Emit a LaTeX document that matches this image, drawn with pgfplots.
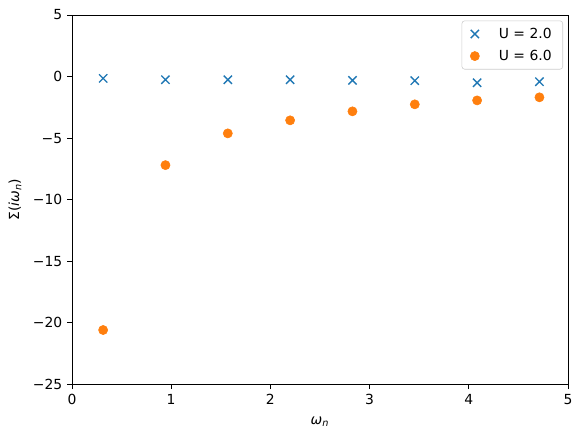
\documentclass[border=0pt]{standalone}
\usepackage{fontspec}
\setmainfont{DejaVu Sans}
\usepackage{pgfplots}
\pgfplotsset{compat=1.18}
\definecolor{cblue}{HTML}{1F77B4}
\definecolor{corange}{HTML}{FF7F0E}
\begin{document}
\begin{tikzpicture}
\begin{axis}[name=ax,
    scale only axis,
    width=357pt, height=265.7pt,
    xmin=0, xmax=5, ymin=-25, ymax=5,
    xtick={0,1,2,3,4,5},
    ytick={-25,-20,-15,-10,-5,0,5},
    yticklabels={−25,−20,−15,−10,−5,0,5},
    tick align=outside,
    major tick length=3.5pt,
    tick style={black, line width=0.6pt},
    xtick pos=bottom, ytick pos=left,
    axis line style={line width=0.6pt},
    /pgf/number format/assume math mode=true,
    tick label style={font=\fontsize{10}{12}\selectfont},
    xlabel={\textit{ω}\textsubscript{\textit{n}}},
    ylabel={Σ(\textit{iω}\textsubscript{\textit{n}})},
    label style={font=\fontsize{10}{12}\selectfont},
    xlabel style={yshift=-2pt},
    ylabel style={yshift=1.5pt},
    legend style={font=\fontsize{10}{12}\selectfont, draw=black!20, rounded corners=2pt,
        at={(0.99,0.985)}, anchor=north east, inner xsep=6pt, inner ysep=3pt, row sep=3pt},
    legend cell align=left,
]
\addplot[only marks, mark=x, mark size=4.2pt, cblue, line width=1pt] coordinates {
(0.3142,-0.15)
(0.9425,-0.26)
(1.5708,-0.26)
(2.1991,-0.26)
(2.8274,-0.31)
(3.4558,-0.34)
(4.0841,-0.50)
(4.7124,-0.42)
};
\addlegendentry{\hspace{12pt}U = 2.0}
\addplot[only marks, mark=*, mark size=3.3pt, corange, draw=corange] coordinates {
(0.3142,-20.6)
(0.9425,-7.20)
(1.5708,-4.62)
(2.1991,-3.56)
(2.8274,-2.83)
(3.4558,-2.26)
(4.0841,-1.94)
(4.7124,-1.69)
};
\addlegendentry{\hspace{12pt}U = 6.0}
\end{axis}
\pgfresetboundingbox
\path ([xshift=-51.8pt,yshift=-38.9pt]ax.south west) rectangle ([xshift=10.1pt,yshift=10.8pt]ax.north east);
\end{tikzpicture}
\end{document}
